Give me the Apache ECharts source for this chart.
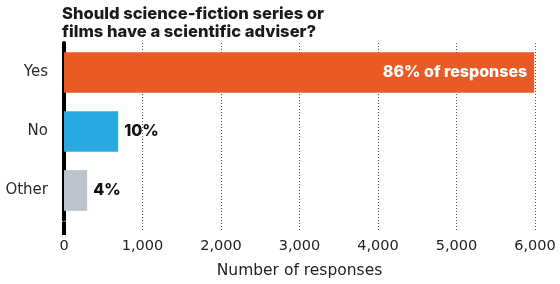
<!DOCTYPE html>
<html>
<head>
<meta charset="utf-8">
<script src="https://cdn.jsdelivr.net/npm/echarts@6/dist/echarts.min.js"></script>
<style>
  html, body { margin: 0; padding: 0; background: #fff; }
  #chart { width: 560px; height: 284px; }
</style>
</head>
<body>
<div id="chart"></div>
<script>
const categories = ['Yes', 'No', 'Other'];
const responses = [5990, 690, 295];
const barLabels = ['86% of responses', '10%', '4%'];
const barColors = ['#E95B24', '#29A9E1', '#BCC3CC'];
const xTicks = [0, 1000, 2000, 3000, 4000, 5000, 6000];

const boldFont = 'Inter, "Noto Sans", sans-serif';
const axisFont = '"DejaVu Sans", sans-serif';
const chart = echarts.init(document.getElementById('chart'));

chart.setOption({
  animation: false,
  title: {
    text: 'Should science-fiction series or\nfilms have a scientific adviser?',
    left: 57,
    top: 0,
    textStyle: { fontFamily: boldFont, fontSize: 16.6, fontWeight: 800, color: '#1a1a1a', lineHeight: 18 }
  },
  grid: { left: 64, right: 25, top: 43, height: 181 },
  xAxis: {
    type: 'value',
    min: xTicks[0],
    max: xTicks[xTicks.length - 1],
    interval: 1000,
    name: 'Number of responses',
    nameLocation: 'middle',
    nameGap: 43,
    nameTextStyle: { fontFamily: axisFont, fontSize: 15.5, color: '#222' },
    axisLine: { show: false },
    axisTick: { show: true, length: 11, lineStyle: { color: '#555', type: [1, 2] } },
    axisLabel: {
      margin: 19,
      fontFamily: axisFont, fontSize: 14.5, color: '#222',
      formatter: v => v.toLocaleString('en-US')
    },
    splitLine: { show: true, lineStyle: { color: '#555', type: [1, 2] } }
  },
  yAxis: {
    type: 'category',
    data: categories,
    inverse: true,
    axisLine: { lineStyle: { color: '#000', width: 4 } },
    axisTick: { length: 8, lineStyle: { color: '#444', width: 1.5 } },
    axisLabel: { margin: 16, fontFamily: axisFont, fontSize: 15, color: '#2a2a2a' }
  },
  series: [{
    type: 'bar',
    barWidth: '69%',
    z: 1,
    data: responses.map((v, i) => ({
      value: v,
      itemStyle: { color: barColors[i] },
      label: i === 0
        ? { show: true, position: 'insideRight', distance: 7, formatter: barLabels[i], color: '#fff', fontWeight: 800, fontSize: 16, fontFamily: boldFont }
        : { show: true, position: 'right', distance: 6, formatter: barLabels[i], color: '#111', fontWeight: 800, fontSize: 16, fontFamily: boldFont }
    }))
  }]
});

// extend the vertical axis line down past the plot area like the original
const p0 = chart.convertToPixel({ gridIndex: 0 }, [0, categories.length - 1]);
const bottomY = 43 + 181;
chart.setOption({
  graphic: [{
    type: 'line',
    shape: { x1: p0[0], y1: bottomY - 2, x2: p0[0], y2: bottomY + 11 },
    style: { stroke: '#000', lineWidth: 4 },
    z: 10
  }]
});
</script>
</body>
</html>
